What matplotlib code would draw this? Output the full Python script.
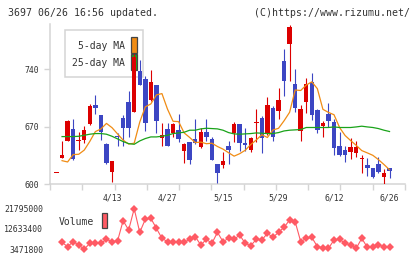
import numpy as np
import pandas as pd
import matplotlib
matplotlib.use("Agg")
import matplotlib.pyplot as plt
from matplotlib.patches import Rectangle

# daily prices (slot 0 is the lone dash at the left edge)
opens = [613, 632, 653, 667, 652, 654, 673, 696, 684, 649, 615, 658, 681, 700, 688, 738,
         728, 702, 721, 656, 667, 662, 666, 640, 651, 655, 645, 663, 655, 624, 623, 647,
         662, 673, 650, 641, 674, 681, 661, 693, 689, 750, 771, 722, 665, 700, 724, 690,
         671, 685, 676, 647, 642, 639, 638, 630, 623, 620, 624, 609, 619]
highs = [613, 653, 678, 679, 663, 671, 698, 709, 684, 650, 628, 662, 684, 713, 759, 751,
         732, 739, 721, 674, 674, 674, 685, 650, 651, 679, 669, 679, 658, 624, 639, 653,
         676, 673, 669, 658, 691, 683, 706, 695, 717, 765, 794, 741, 696, 730, 736, 691,
         677, 699, 679, 664, 647, 656, 652, 636, 632, 620, 633, 618, 619]
lows = [613, 632, 653, 629, 642, 650, 672, 685, 654, 625, 602, 646, 646, 657, 688, 721,
        665, 701, 662, 646, 646, 658, 651, 626, 624, 649, 644, 652, 629, 601, 620, 624,
        651, 640, 640, 639, 651, 638, 660, 653, 679, 707, 726, 688, 653, 687, 678, 662,
        658, 670, 635, 634, 627, 631, 633, 613, 610, 607, 613, 600, 607]
closes = [613, 635, 677, 630, 652, 666, 695, 693, 664, 626, 628, 657, 669, 669, 755, 721,
          675, 724, 677, 660, 647, 673, 655, 649, 629, 650, 663, 658, 629, 613, 628, 642,
          673, 650, 648, 656, 674, 656, 696, 658, 702, 726, 792, 693, 691, 722, 684, 666,
          674, 677, 644, 635, 635, 645, 645, 630, 620, 609, 615, 613, 616]

# first moving-average points (need days before the chart window)
ma5_head = [628.5, 626.9, 635.9, 636.3]
ma25 = [657.9, 657.9, 657.9, 658.3, 659.5, 660.8, 661.6, 661.6, 660.8, 658.3,
        655.1, 651.8, 649.3, 648.5, 652.6, 655.5, 657.5, 657.5, 658.3, 659.5,
        661.6, 662.4, 663.2, 665.7, 665.7, 667.3, 668.1, 667.7, 667.3, 665.7,
        662.8, 661.2, 660.8, 661.2, 661.6, 662.4, 662.0, 661.6, 661.6, 662.8,
        664.8, 665.7, 666.1, 666.5, 669.0, 669.0, 669.0, 669.0, 669.0, 669.7,
        669.0, 669.0, 669.0, 669.7, 670.6, 669.7, 669.0, 667.7, 665.7, 664.1]

volumes = [6580000, 4620000, 6880000, 5370000, 3471800, 6130000, 6130000, 6130000, 7940000, 6880000,
           7180000, 16380000, 12160000, 21795000, 11100000, 16990000, 17440000, 12910000, 8390000, 6880000,
           6880000, 6580000, 6580000, 7940000, 9140000, 5370000, 7940000, 6130000, 11100000, 6880000,
           8390000, 7940000, 9900000, 6130000, 5070000, 7940000, 7630000, 10650000, 8840000, 11100000,
           13370000, 16680000, 15930000, 6880000, 8390000, 8840000, 4620000, 4160000, 3870000, 7630000,
           7940000, 6130000, 5370000, 3870000, 8390000, 4320000, 4320000, 5370000, 4620000, 4620000]

date_labels = ["4/13", "4/27", "5/15", "5/29", "6/12", "6/26"]
date_slots = [10, 20, 30, 40, 50, 60]
price_ticks = [600, 670, 740]
vol_ticks = [3471800, 12633400, 21795000]

RED = '#dc0000'
BLUE = '#3c46c3'
ORANGE = '#f08c14'
GREEN = '#1aa31a'
VOLC = '#ff5a64'
GRID = '#d4d4d4'
TXT = '#333333'
MONO = 'DejaVu Sans Mono'

W, H = 420, 259
fig = plt.figure(figsize=(W / 100, H / 100), dpi=100)


def px_axes(l, t, r, b):
    return fig.add_axes([l / W, 1 - b / H, (r - l) / W, (b - t) / H])


def fx(x):
    return x / W


def fy(y):
    return 1 - y / H


ax = px_axes(50, 24, 405, 184)
axv = px_axes(50, 203, 405, 255)
xlim = (-1.17, 62.79)

n = len(closes)
x = np.arange(n)
o = np.array(opens, float)
c = np.array(closes, float)
up = c >= o
cols = [RED if u else BLUE for u in up]

# candles
ax.vlines(x, lows, highs, colors=cols, linewidth=0.8, zorder=3)
ax.bar(x, np.maximum(np.abs(c - o), 1.2), bottom=np.minimum(o, c), width=0.8,
       color=cols, linewidth=0, zorder=4)

# moving averages (drawn one slot to the right, as in the original)
ma5 = pd.Series(closes, dtype=float).rolling(5).mean().shift(1)
ma5.iloc[1:5] = ma5_head
slots = np.arange(1, n)
ax.plot(slots, ma5.values[1:], color=ORANGE, lw=0.9, zorder=5)
ax.plot(slots, ma25, color=GREEN, lw=0.9, zorder=5)

ax.set_xlim(*xlim)
ax.set_ylim(600, 795.4)
for s in ['top', 'right']:
    ax.spines[s].set_visible(False)
for s in ['left', 'bottom']:
    ax.spines[s].set_color(GRID)
    ax.spines[s].set_linewidth(1.1)
ax.set_yticks(price_ticks)
ax.set_yticklabels([str(t) for t in price_ticks], fontsize=5.9, family=MONO, color=TXT)
ax.tick_params(axis='y', length=4, color=GRID, width=1, pad=4)
ax.set_xticks(np.linspace(xlim[0], xlim[1], 12))
ax.set_xticklabels([])
ax.tick_params(axis='x', which='major', length=4, color=GRID, width=1)
ax.set_xticks(date_slots, minor=True)
ax.set_xticklabels(date_labels, minor=True, fontsize=5.9, family=MONO, color=TXT)
ax.tick_params(axis='x', which='minor', length=0, pad=7)

# legend box (sits under the candles)
ax.add_patch(Rectangle((fx(65), fy(77)), fx(78), 47 / H, transform=fig.transFigure,
                       facecolor='white', edgecolor=GRID, lw=1.1, zorder=1))
ax.add_patch(Rectangle((fx(131), fy(53.3)), fx(6.3), 16 / H, transform=fig.transFigure,
                       facecolor=ORANGE, edgecolor='#444444', lw=0.9, zorder=2))
ax.add_patch(Rectangle((fx(131), fy(70)), fx(6.3), 15.7 / H, transform=fig.transFigure,
                       facecolor=GREEN, edgecolor='#444444', lw=0.9, zorder=2))
ax.text(fx(125), fy(46), '5-day MA', transform=fig.transFigure, ha='right', va='center',
        fontsize=7, family=MONO, color=TXT, zorder=2)
ax.text(fx(125), fy(63.3), '25-day MA', transform=fig.transFigure, ha='right', va='center',
        fontsize=7, family=MONO, color=TXT, zorder=2)

# volume panel
axv.plot(slots, volumes, color=VOLC, lw=0.8, marker='D', markersize=3.6,
         markeredgewidth=0, clip_on=False)
axv.set_xlim(*xlim)
axv.set_ylim(848000, 24373000)
for s in axv.spines.values():
    s.set_visible(False)
axv.set_xticks([])
axv.set_yticks(vol_ticks)
axv.set_yticklabels([str(t) for t in vol_ticks], fontsize=5.9, family=MONO, color=TXT)
axv.tick_params(axis='y', length=0, pad=5)

fig.text(fx(58.7), fy(221.7), 'Volume', ha='left', va='center', fontsize=7, family=MONO, color=TXT)
fig.patches.append(Rectangle((fx(101.7), fy(228.3)), fx(5.6), 15 / H, transform=fig.transFigure,
                             facecolor=VOLC, edgecolor='#444444', lw=0.9))

fig.text(fx(8), fy(12.7), '3697 06/26 16:56 updated.', ha='left', va='center',
         fontsize=7.1, family=MONO, color=TXT)
fig.text(fx(410), fy(12.7), '(C)https://www.rizumu.net/', ha='right', va='center',
         fontsize=7.1, family=MONO, color=TXT)

fig.savefig('out.png', dpi=100, facecolor='white')
